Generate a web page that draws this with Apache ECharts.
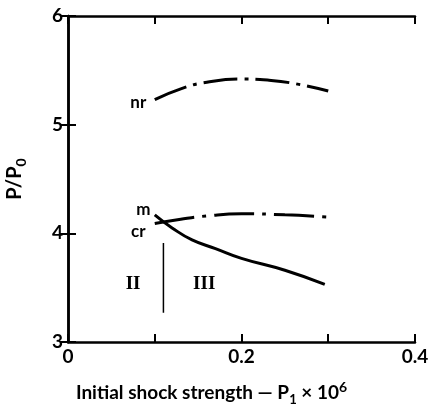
<!DOCTYPE html>
<html><head><meta charset="utf-8">
<script src="https://cdn.jsdelivr.net/npm/echarts@6/dist/echarts.min.js"></script>
<style>html,body{margin:0;padding:0;background:#fff}#c{width:435px;height:407px}</style>
</head><body><div id="c"></div>
<script>
// Data
const nrX = [0.1, 0.13, 0.16, 0.2, 0.23, 0.26, 0.3];
const nrY = [5.23, 5.33, 5.39, 5.42, 5.41, 5.38, 5.31];
const mX = [0.1, 0.13, 0.16, 0.2, 0.25, 0.3];
const mY = [4.09, 4.13, 4.16, 4.18, 4.17, 4.15];
const crX = [0.1, 0.12, 0.143, 0.17, 0.2, 0.25, 0.296];
const crY = [4.17, 4.05, 3.94, 3.86, 3.77, 3.66, 3.53];
const dividerX = [0.11, 0.11];
const dividerY = [3.27, 3.91];
const xTickLabels = {0: '0', 0.2: '0.2', 0.4: '0.4'};
const annotations = [
  {name: 'nr', x: 0.081, y: 5.2, font: 'sans'},
  {name: 'm', x: 0.087, y: 4.22, font: 'sans'},
  {name: 'cr', x: 0.081, y: 4.02, font: 'sans'},
  {name: 'II', x: 0.075, y: 3.53, font: 'serif'},
  {name: 'III', x: 0.157, y: 3.53, font: 'serif'}
];

const zip = (xs, ys) => xs.map((x, i) => [x, ys[i]]);
const SANS = 'Lato, "DejaVu Sans", sans-serif';
const chart = echarts.init(document.getElementById('c'));
const axisLine = {show: true, lineStyle: {color: '#000', width: 2.5}};
const tick = {show: true, inside: true, length: 8, lineStyle: {color: '#000', width: 2}};
chart.setOption({
  animation: false,
  backgroundColor: '#fff',
  grid: {left: 68, right: 20, top: 16, bottom: 65, containLabel: false, outerBoundsMode: 'none'},
  xAxis: [{
    type: 'value', min: 0, max: 0.4, interval: 0.1, position: 'bottom',
    axisLine, axisTick: tick, splitLine: {show: false},
    axisLabel: {color: '#000', fontFamily: SANS, fontWeight: 'bold', fontSize: 19, margin: 5,
      formatter: v => xTickLabels[Math.round(v * 10) / 10] || ''},
    name: '{a|Initial shock strength — P}{s|1}{a| × 10}{p|6}',
    nameLocation: 'middle', nameGap: 38,
    nameTextStyle: {padding: [0, 60, 0, 0], rich: {
      a: {fontFamily: SANS, fontWeight: 'bold', fontSize: 19, color: '#000'},
      s: {fontFamily: SANS, fontWeight: 'bold', fontSize: 13, color: '#000', verticalAlign: 'bottom', padding: [12, 0, 0, 0]},
      p: {fontFamily: SANS, fontWeight: 'bold', fontSize: 14, color: '#000', verticalAlign: 'top', padding: [0, 0, 12, 0]}
    }}
  }, {
    type: 'value', min: 0, max: 0.4, interval: 0.1, position: 'top',
    axisLine, axisTick: tick, axisLabel: {show: false}, splitLine: {show: false}
  }],
  yAxis: [{
    type: 'value', min: 3, max: 6, interval: 1, position: 'left',
    axisLine, axisTick: tick, splitLine: {show: false},
    axisLabel: {color: '#000', fontFamily: SANS, fontWeight: 'bold', fontSize: 19, margin: 5},
    name: '{a|P/P}{s|0}', nameLocation: 'middle', nameRotate: 90, nameGap: 40,
    nameTextStyle: {rich: {
      a: {fontFamily: SANS, fontWeight: 'bold', fontSize: 20, color: '#000'},
      s: {fontFamily: SANS, fontWeight: 'bold', fontSize: 14, color: '#000', verticalAlign: 'bottom', padding: [12, 0, 0, 0]}
    }}
  }, {
    type: 'value', min: 3, max: 6, interval: 1, position: 'right',
    axisLine, axisTick: tick, axisLabel: {show: false}, splitLine: {show: false}
  }],
  series: [
    {type: 'line', data: zip(nrX, nrY), smooth: true, showSymbol: false,
      lineStyle: {color: '#000', width: 3, type: [34, 7, 4, 7], cap: 'butt'}},
    {type: 'line', data: zip(mX, mY), smooth: true, showSymbol: false,
      lineStyle: {color: '#000', width: 3, type: [40, 8, 4, 8], cap: 'butt'}},
    {type: 'line', data: zip(crX, crY), smooth: true, showSymbol: false,
      lineStyle: {color: '#000', width: 3}},
    {type: 'line', data: zip(dividerX, dividerY), showSymbol: false,
      lineStyle: {color: '#000', width: 1.5}},
    {type: 'scatter', symbolSize: 1, itemStyle: {opacity: 1, color: 'rgba(0,0,0,0)'},
      data: annotations.map(a => ({name: a.name, value: [a.x, a.y],
        label: {show: true, position: 'inside', formatter: a.name, color: '#000', opacity: 1,
          fontWeight: 'bold',
          fontFamily: a.font === 'serif' ? '"Liberation Serif", serif' : SANS,
          fontSize: a.font === 'serif' ? 19 : 17}}))}
  ]
});
</script></body></html>
